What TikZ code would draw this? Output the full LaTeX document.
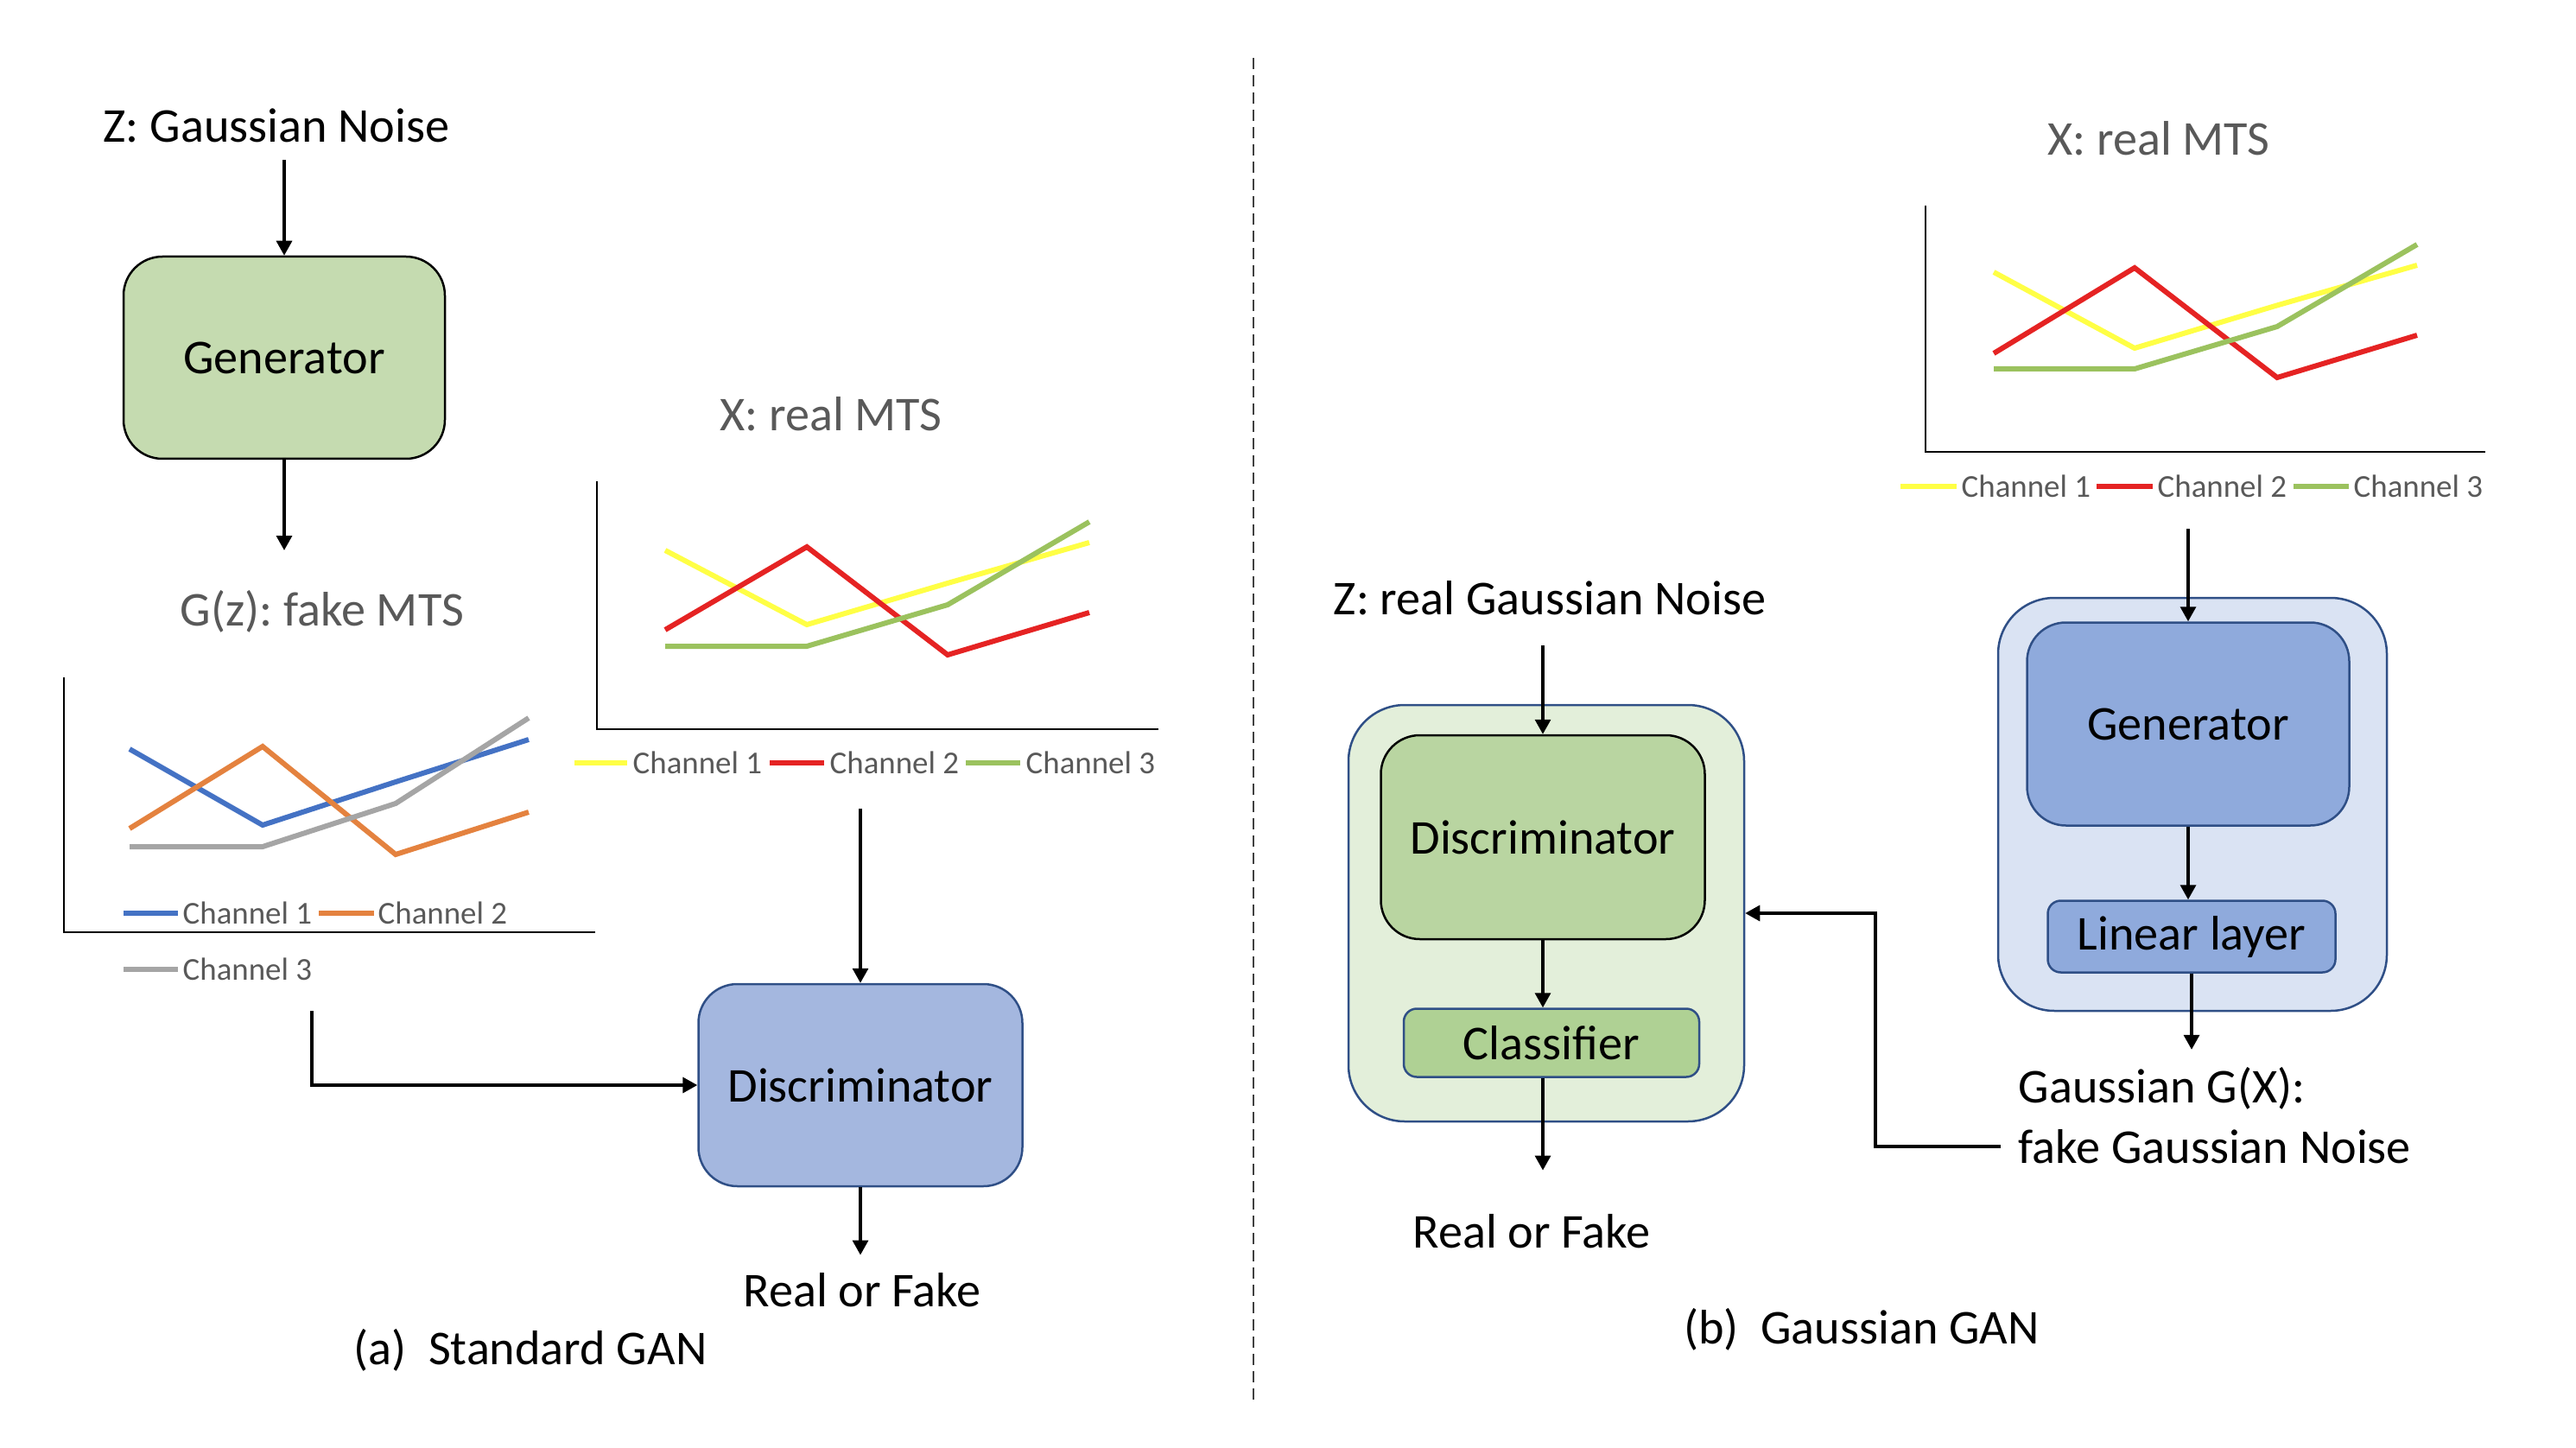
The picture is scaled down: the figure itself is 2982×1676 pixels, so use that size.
\documentclass[tikz,border=0pt]{standalone}
\usepackage{fontspec}
\setmainfont{Carlito}
\usetikzlibrary{arrows.meta}
\frenchspacing
\definecolor{txtgray}{HTML}{595959}
\definecolor{gengreen}{HTML}{C5DBB0}
\definecolor{discgreen}{HTML}{B9D5A1}
\definecolor{clfgreen}{HTML}{AFD194}
\definecolor{contgreen}{HTML}{E3EFDA}
\definecolor{discblue}{HTML}{A4B7DF}
\definecolor{genblue}{HTML}{8FAADC}
\definecolor{contblue}{HTML}{DAE3F3}
\definecolor{edgeblue}{HTML}{2F4F86}
\definecolor{cblue}{HTML}{4472C4}
\definecolor{corange}{HTML}{E4823F}
\definecolor{cgray}{HTML}{A5A5A5}
\definecolor{cyellow}{HTML}{FFFF45}
\definecolor{cred}{HTML}{E52323}
\definecolor{cgreen}{HTML}{9BC25E}

\begin{document}
\begin{tikzpicture}[x=0.1mm,y=-0.1mm,
	lbl/.style={font=\fontsize{16}{19}\selectfont, inner sep=2mm},
	ttl/.style={lbl, text=txtgray},
	leg/.style={font=\fontsize{10.5}{12}\selectfont, text=txtgray, anchor=west, inner sep=0pt},
	arr/.style={-{Triangle[length=1.7mm,width=1.8mm]}, line width=0.33mm},
	blk/.style={draw, line width=0.25mm, inner sep=0pt, rounded corners=4.5mm, font=\fontsize{16}{19}\selectfont},
	axisline/.style={line width=0.25mm},
	ser/.style={line width=0.6mm}]

	\useasboundingbox (0,0) rectangle (2982,1676);

	% (a) standard GAN
	\node[lbl] (zl) at (320,145) {Z: Gaussian Noise};
	\node[blk, fill=gengreen, minimum width=37.2mm, minimum height=23.4mm] (genl) at (329,414) {Generator};
	\coordinate (gzin) at (329,637);
	\draw[arr] (zl.south -| genl.north) -- (genl.north);
	\draw[arr] (genl.south) -- (gzin);

	\node[ttl] (gzl) at (373,708) {G(z): fake MTS};
	\draw[axisline] (74,784) -- (74,1079) -- (689,1079);
	\draw[ser, cblue] (150,867) -- (304,955) -- (458,905) -- (612,856);
	\draw[ser, corange] (150,959) -- (304,864) -- (458,989) -- (612,940);
	\draw[ser, cgray] (150,980) -- (304,980) -- (458,930) -- (612,831);
	\draw[ser, cblue] (143,1057) -- (206,1057);
	\node[leg] (lg1) at (211,1057) {Channel 1};
	\draw[ser, corange] (369,1057) -- (433,1057);
	\node[leg] (lg2) at (437,1057) {Channel 2};
	\draw[ser, cgray] (143,1122) -- (206,1122);
	\node[leg] (lg3) at (211,1122) {Channel 3};

	\node[ttl] (xl) at (962,479) {X: real MTS};
	\draw[axisline] (691,557) -- (691,844) -- (1341,844);
	\draw[ser, cyellow] (770,637) -- (934,723) -- (1097,675) -- (1261,628);
	\draw[ser, cred] (770,729) -- (934,633) -- (1097,758) -- (1261,709);
	\draw[ser, cgreen] (770,748) -- (934,748) -- (1097,700) -- (1261,604);
	\draw[ser, cyellow] (665,883) -- (726,883);
	\node[leg] (lr1) at (732,883) {Channel 1};
	\draw[ser, cred] (891,883) -- (954,883);
	\node[leg] (lr2) at (960,883) {Channel 2};
	\draw[ser, cgreen] (1118,883) -- (1181,883);
	\node[leg] (lr3) at (1187,883) {Channel 3};

	\node[blk, fill=discblue, draw=edgeblue, minimum width=37.5mm, minimum height=23.4mm] (discl) at (996,1256) {Discriminator};
	\coordinate (xlout) at (996,936);
	\coordinate (gzout) at (361,1170);
	\draw[arr] (xlout) -- (discl.north);
	\draw[arr] (gzout) |- (discl.west);

	\node[lbl] (rfl) at (998,1493) {Real or Fake};
	\draw[arr] (discl.south) -- (rfl.north -| discl.south);

	\node[lbl] (capa) at (614,1563) {(a)~~Standard GAN};

	\draw[line width=0.2mm, black!75, dash pattern=on 1.3mm off 0.7mm] (1451,67) -- (1451,1626);

	% (b) Gaussian GAN
	\node[ttl] (xr) at (2499,160) {X: real MTS};
	\draw[axisline] (2229,238) -- (2229,523) -- (2877,523);
	\draw[ser, cyellow] (2308,315) -- (2471,403) -- (2634,354) -- (2798,307);
	\draw[ser, cred] (2308,409) -- (2471,310) -- (2636,437) -- (2798,388);
	\draw[ser, cgreen] (2308,427) -- (2471,427) -- (2636,378) -- (2798,283);
	\draw[ser, cyellow] (2200,563) -- (2265,563);
	\node[leg] (rr1) at (2270,563) {Channel 1};
	\draw[ser, cred] (2427,563) -- (2492,563);
	\node[leg] (rr2) at (2497,563) {Channel 2};
	\draw[ser, cgreen] (2655,563) -- (2719,563);
	\node[leg] (rr3) at (2724,563) {Channel 3};

	\node[blk, fill=contblue, draw=edgeblue, rounded corners=6.5mm, minimum width=45mm, minimum height=47.8mm] (gcont) at (2538,931) {};
	\node[blk, fill=genblue, draw=edgeblue, minimum width=37.3mm, minimum height=23.5mm] (genr) at (2533,838) {Generator};
	\node[blk, fill=genblue, draw=edgeblue, rounded corners=1.5mm, minimum width=33.3mm, minimum height=8.3mm] (lin) at (2537,1084) {Linear layer};
	\coordinate (xrout) at (2533,612);
	\draw[arr] (xrout) -- (genr.north);
	\draw[arr] (genr.south) -- (genr.south |- lin.north);

	\node[lbl, anchor=west] (gx1) at (2316,1260) {Gaussian G(X):};
	\node[lbl, anchor=west] (gx2) at (2316,1327) {fake Gaussian Noise};
	\draw[arr] (lin.south) -- (lin.south |- gx1.north);

	\node[lbl] (zr) at (1794,692) {Z: real Gaussian Noise};
	\node[blk, fill=contgreen, draw=edgeblue, rounded corners=6.5mm, minimum width=45.8mm, minimum height=48.2mm] (dcont) at (1790,1057) {};
	\node[blk, fill=discgreen, minimum width=37.5mm, minimum height=23.6mm] (discr) at (1786,969) {Discriminator};
	\node[blk, fill=clfgreen, draw=edgeblue, rounded corners=1.5mm, minimum width=34.2mm, minimum height=7.9mm] (clf) at (1796,1207) {Classifier};
	\draw[arr, shorten <=1.5mm] (zr.south -| discr.north) -- (discr.north);
	\draw[arr] (discr.south) -- (discr.south |- clf.north);

	\node[lbl] (rfr) at (1773,1425) {Real or Fake};
	\draw[arr, shorten >=3mm] (clf.south -| discr.south) -- (rfr.north -| discr.south);
	\draw[arr] (gx2.west) -- ++(-145,0) |- (dcont.east);

	\node[lbl] (capb) at (2155,1539) {(b)~~Gaussian GAN};

\end{tikzpicture}
\end{document}
